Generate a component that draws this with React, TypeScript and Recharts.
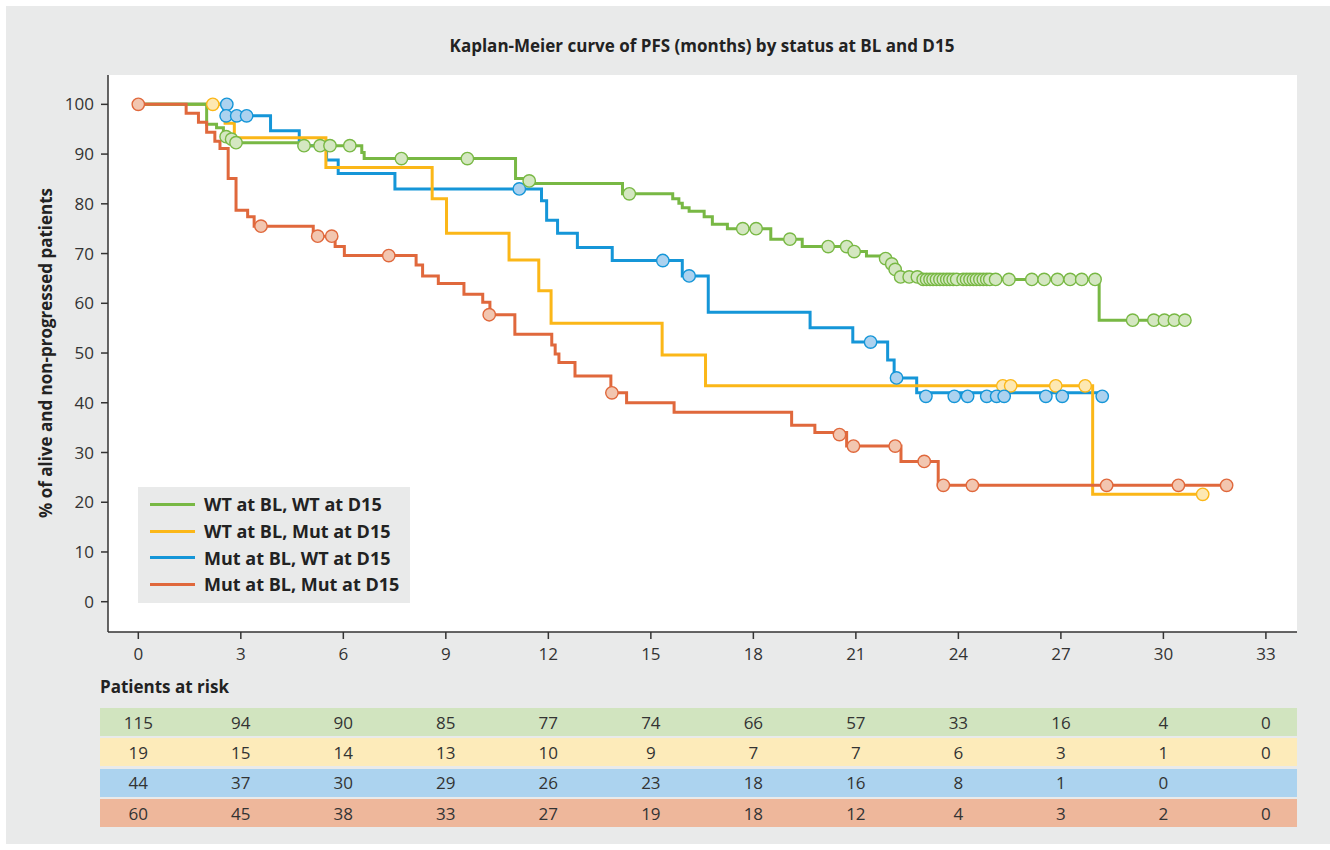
import React from 'react';
import { ComposedChart, Line, Scatter, XAxis, YAxis, CartesianGrid } from 'recharts';

const FONT = '"Open Sans", "Noto Sans", sans-serif';
const PANEL = '#e9eaea';

const groups = ['WT at BL, WT at D15', 'WT at BL, Mut at D15', 'Mut at BL, WT at D15', 'Mut at BL, Mut at D15'];
const lineColors = ['#78b844', '#fbb718', '#1596d8', '#e0683c'];
const markFills = ['#d4e7c1', '#fde8b2', '#acd2ef', '#f2c6b0'];
const rowFills = ['#d1e4bf', '#fdebba', '#acd3ef', '#eeb79b'];

const monthTicks = [0, 3, 6, 9, 12, 15, 18, 21, 24, 27, 30, 33];
const pctTicks = [0, 10, 20, 30, 40, 50, 60, 70, 80, 90, 100];

// WT at BL, WT at D15
const wtwtTimes = [0, 2.0, 2.29, 2.49, 2.55, 2.68, 2.8, 4.8, 6.54, 6.61, 11.04, 11.4, 14.17, 15.64, 15.82, 15.92, 16.12, 16.56, 16.8, 17.24, 18.51, 19.43, 20.8, 21.31, 21.84, 21.98, 22.12, 22.27, 22.9, 28.12, 30.63];
const wtwtSurv = [100, 96.0, 95.3, 94.5, 93.5, 93.0, 92.3, 91.7, 90.3, 89.1, 85.1, 84.1, 82.0, 81.0, 80.1, 79.2, 78.5, 77.4, 75.9, 75.0, 72.9, 71.4, 70.4, 69.5, 69.0, 67.9, 66.8, 65.3, 64.8, 56.6, 56.6];
const wtwtCensorT = [2.57, 2.73, 2.86, 4.85, 5.32, 5.61, 6.19, 7.7, 9.63, 11.44, 14.37, 17.69, 18.08, 19.07, 20.19, 20.73, 20.95, 21.87, 22.05, 22.15, 22.31, 22.56, 22.8,
  22.97, 23.07, 23.17, 23.26, 23.36, 23.46, 23.56, 23.66, 23.75, 23.85, 23.95, 24.14, 24.24, 24.34, 24.44, 24.53, 24.63, 24.73, 24.83, 24.92, 25.09,
  25.48, 26.15, 26.51, 26.9, 27.27, 27.61, 28.0, 29.1, 29.72, 30.03, 30.32, 30.63];
const wtwtCensorS = [93.5, 93.0, 92.3, 91.7, 91.7, 91.7, 91.7, 89.1, 89.1, 84.6, 82.0, 75.0, 75.0, 72.9, 71.4, 71.4, 70.4, 69.0, 67.9, 66.8, 65.3, 65.3, 65.3,
  64.8, 64.8, 64.8, 64.8, 64.8, 64.8, 64.8, 64.8, 64.8, 64.8, 64.8, 64.8, 64.8, 64.8, 64.8, 64.8, 64.8, 64.8, 64.8, 64.8, 64.8,
  64.8, 64.8, 64.8, 64.8, 64.8, 64.8, 64.8, 56.6, 56.6, 56.6, 56.6, 56.6];

// WT at BL, Mut at D15
const wtmutTimes = [0, 2.54, 2.81, 5.49, 8.6, 9.02, 10.85, 11.72, 12.08, 15.33, 16.6, 27.93, 31.15];
const wtmutSurv = [100, 96.2, 93.3, 87.3, 81.0, 74.1, 68.7, 62.5, 56.0, 49.6, 43.4, 21.6, 21.6];
const wtmutCensorT = [2.18, 25.3, 25.53, 26.85, 27.71, 31.15];
const wtmutCensorS = [100, 43.4, 43.4, 43.4, 43.4, 21.6];

// Mut at BL, WT at D15
const mutwtTimes = [0, 2.5, 3.87, 4.71, 5.51, 5.85, 7.51, 11.8, 11.95, 12.27, 12.85, 13.87, 15.92, 16.68, 19.66, 20.91, 21.93, 22.12, 22.78, 28.21];
const mutwtSurv = [100, 97.7, 94.7, 91.7, 88.8, 86.1, 83.0, 80.6, 76.7, 74.1, 71.2, 68.6, 65.5, 58.2, 55.1, 52.2, 48.6, 45.0, 42.0, 42.0];
const mutwtCensorT = [2.59, 2.57, 2.88, 3.17, 11.15, 15.35, 16.12, 21.43, 22.19, 23.05, 23.88, 24.27, 24.83, 25.12, 25.34, 26.56, 27.04, 28.21];
const mutwtCensorS = [100, 97.7, 97.7, 97.7, 83.0, 68.6, 65.5, 52.2, 45.0, 41.3, 41.3, 41.3, 41.3, 41.3, 41.3, 41.3, 41.3, 41.3];

// Mut at BL, Mut at D15
const mutmutTimes = [0, 1.4, 1.76, 2.0, 2.24, 2.39, 2.63, 2.86, 3.2, 3.39, 5.12, 5.76, 6.03, 8.13, 8.32, 8.78, 9.53, 10.08, 10.29, 11.02, 12.1, 12.2, 12.31, 12.78, 13.83, 14.29, 15.68, 19.12, 19.8, 20.73, 22.32, 23.41, 31.85];
const mutmutSurv = [100, 98.2, 96.4, 94.4, 92.6, 91.1, 85.1, 78.7, 77.4, 75.5, 73.5, 71.4, 69.6, 67.7, 65.5, 64.0, 61.8, 60.2, 57.7, 53.8, 51.6, 49.8, 48.1, 45.4, 42.0, 40.0, 38.1, 35.5, 34.0, 31.3, 28.2, 23.4, 23.4];
const mutmutCensorT = [0, 3.59, 5.25, 5.66, 7.33, 10.27, 13.86, 20.52, 20.93, 22.15, 23.0, 23.56, 24.41, 28.34, 30.44, 31.85];
const mutmutCensorS = [100, 75.5, 73.5, 73.5, 69.6, 57.7, 42.0, 33.6, 31.3, 31.3, 28.2, 23.4, 23.4, 23.4, 23.4, 23.4];

// patients at risk, one value per month tick
const riskWtWt = [115, 94, 90, 85, 77, 74, 66, 57, 33, 16, 4, 0];
const riskWtMut = [19, 15, 14, 13, 10, 9, 7, 7, 6, 3, 1, 0];
const riskMutWt = [44, 37, 30, 29, 26, 23, 18, 16, 8, 1, 0, null];
const riskMutMut = [60, 45, 38, 33, 27, 19, 18, 12, 4, 3, 2, 0];
const riskRows = [riskWtWt, riskWtMut, riskMutWt, riskMutMut];

const pts = (ts: number[], ss: number[]) => ts.map((t, i) => ({ t, s: ss[i] }));

const curves = [
  pts(wtwtTimes, wtwtSurv),
  pts(wtmutTimes, wtmutSurv),
  pts(mutwtTimes, mutwtSurv),
  pts(mutmutTimes, mutmutSurv),
];
const censors = [
  pts(wtwtCensorT, wtwtCensorS),
  pts(wtmutCensorT, wtmutCensorS),
  pts(mutwtCensorT, mutwtCensorS),
  pts(mutmutCensorT, mutmutCensorS),
];

// layout (container coords, container sits at 6,6)
const W = 1324;
const H = 838;
const PLOT_TOP = 69;
const PLOT_BOTTOM = 626;
const rowTops = [702, 732.3, 762.6, 793];
const rowOffsets = [75, 105, 135.5, 166]; // from tick y (641) to row centre

const MonthTick = (props: any) => {
  const { x, y, payload } = props;
  const i = monthTicks.indexOf(payload.value);
  return (
    <g fontFamily={FONT} fill="#333">
      <text x={x} y={y + 6} textAnchor="middle" dominantBaseline="central" fontSize={17}>
        {payload.value}
      </text>
      {riskRows.map((row, r) =>
        row[i] == null ? null : (
          <text key={r} x={x} y={y + rowOffsets[r]} textAnchor="middle" dominantBaseline="central" fontSize={17}>
            {row[i]}
          </text>
        )
      )}
    </g>
  );
};

const censorShape = (k: number) => (p: any) => (
  <circle cx={p.cx} cy={p.cy} r={6.2} fill={markFills[k]} stroke={lineColors[k]} strokeWidth={1.4} />
);

const lineOrder = [2, 1, 0, 3];
const markOrder = [1, 2, 0, 3];

export default function App() {
  return (
    <div style={{ position: 'absolute', left: 6, top: 6, width: W, height: H, background: PANEL, fontFamily: FONT }}>
      {rowTops.map((top, r) => (
        <div key={r} style={{ position: 'absolute', left: 94, top, width: 1197, height: 28, background: rowFills[r] }} />
      ))}
      <div style={{ position: 'absolute', left: 94, top: 669, fontSize: 17, fontWeight: 700, color: '#222' }}>
        Patients at risk
      </div>
      <div style={{ position: 'absolute', left: 0, top: 0 }}>
        <ComposedChart width={W} height={H} margin={{ top: PLOT_TOP, right: 33, bottom: H - PLOT_BOTTOM - 40, left: 42 }}>
          <CartesianGrid fill="#fff" stroke="transparent" strokeOpacity={0} />
          <XAxis
            dataKey="t"
            type="number"
            domain={[-0.887, 33.91]}
            ticks={monthTicks}
            interval={0}
            allowDataOverflow
            height={40}
            tickSize={7}
            tickMargin={8}
            axisLine={{ stroke: '#333', strokeWidth: 1.5 }}
            tickLine={{ stroke: '#333', strokeWidth: 1.5 }}
            tick={<MonthTick />}
          />
          <YAxis
            dataKey="s"
            type="number"
            domain={[-6.09, 105.9]}
            ticks={pctTicks}
            interval={0}
            allowDataOverflow
            width={60}
            tickSize={7}
            tickMargin={7}
            axisLine={{ stroke: '#333', strokeWidth: 1.5 }}
            tickLine={{ stroke: '#333', strokeWidth: 1.5 }}
            tick={{ fontSize: 17, fill: '#333', fontFamily: FONT }}
          />
          {lineOrder.map((k) => (
            <Line
              key={'l' + k}
              data={curves[k]}
              dataKey="s"
              type="stepAfter"
              stroke={lineColors[k]}
              strokeWidth={3}
              dot={false}
              activeDot={false}
              isAnimationActive={false}
            />
          ))}
          {markOrder.map((k) => (
            <Scatter
              key={'c' + k}
              data={censors[k]}
              dataKey="s"
              shape={censorShape(k)}
              isAnimationActive={false}
            />
          ))}
        </ComposedChart>
      </div>
      <div
        style={{
          position: 'absolute',
          left: 696,
          top: 39,
          transform: 'translate(-50%, -50%)',
          whiteSpace: 'nowrap',
          fontSize: 17,
          fontWeight: 700,
          color: '#222',
        }}
      >
        Kaplan-Meier curve of PFS (months) by status at BL and D15
      </div>
      <div
        style={{
          position: 'absolute',
          left: 39,
          top: 347,
          transform: 'translate(-50%, -50%) rotate(-90deg)',
          whiteSpace: 'nowrap',
          fontSize: 17,
          fontWeight: 700,
          color: '#222',
        }}
      >
        % of alive and non-progressed patients
      </div>
      <div style={{ position: 'absolute', left: 132, top: 481, width: 272, height: 116, background: PANEL, paddingTop: 4, boxSizing: 'border-box' }}>
        {groups.map((g, i) => (
          <div key={g} style={{ display: 'flex', alignItems: 'center', height: 26.7 }}>
            <div style={{ width: 45, height: 3, background: lineColors[i], marginLeft: 12, marginRight: 9 }} />
            <span style={{ fontSize: 18, fontWeight: 700, color: '#222' }}>{g}</span>
          </div>
        ))}
      </div>
    </div>
  );
}
